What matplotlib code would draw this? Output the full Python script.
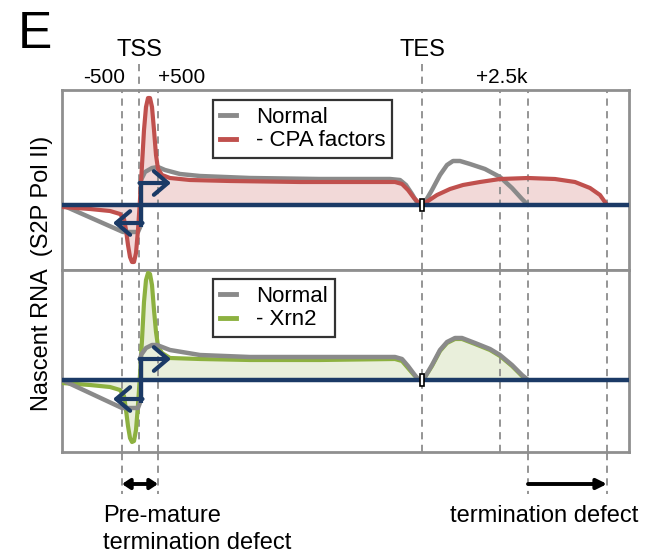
import numpy as np
import matplotlib
matplotlib.use("Agg")
import matplotlib.pyplot as plt
from matplotlib.patches import Rectangle
from matplotlib.lines import Line2D

plt.rcParams['font.family'] = ['Liberation Sans', 'DejaVu Sans']

# schematic positions along the gene (same units as the x axis)
marks = [122, 139, 158, 422, 500, 528, 607]      # -500, TSS, +500, TES, ..., +2.5k, ...
mark_labels = {'-500': 104, '+500': 182, '+2.5k': 502}
site_labels = {'TSS': 139, 'TES': 422}

# panel 1: S2P Pol II (Normal vs - CPA factors)
p1_gray_x = [62, 123, 138, 141, 141, 145, 152, 158, 165, 180, 200, 250, 320, 390, 400, 406, 412, 418, 420,
             425, 432, 440, 447, 453, 460, 470, 485, 500, 512, 522, 528]
p1_gray_y = [0, -27, -27, -20, 25, 33, 37, 38, 35, 31, 29, 27, 26, 26, 25, 20, 11, 1, 0,
             3, 15, 30, 40, 44, 44, 41, 36, 28, 17, 6, 0]
p1_red_x = [62, 90, 110, 120, 124, 126, 128, 130, 132, 134, 136, 138, 140, 142, 144, 146, 148, 150, 152,
            154, 156, 158, 162, 170, 190, 230, 300, 370, 395, 402, 408, 414, 419, 422,
            428, 437, 450, 463, 480, 500, 528, 555, 575, 590, 600, 607]
p1_red_y = [-2, -4, -6, -9, -14, -25, -40, -52, -57, -57, -48, -25, 5, 40, 75, 98, 107, 107, 98,
            75, 50, 36, 30, 27, 25, 24, 23, 23, 23, 21, 15, 7, 2, 0,
            4, 10, 16, 20, 23, 26, 27, 26, 23, 17, 10, 0]

# panel 2: Nascent RNA (Normal vs - Xrn2)
p2_gray_x = [62, 122, 138, 141, 141, 146, 152, 157, 170, 200, 250, 320, 395, 402, 408, 414, 418, 420,
             425, 432, 440, 447, 455, 462, 475, 490, 500, 512, 522, 528]
p2_gray_y = [0, -28, -28, -20, 25, 32, 35, 35, 30, 25, 23, 23, 23, 21, 14, 6, 1, 0,
             3, 15, 30, 38, 42, 42, 37, 31, 25, 15, 5, 0]
p2_green_x = [62, 90, 110, 120, 124, 126, 128, 130, 132, 134, 136, 138, 140, 142, 144, 146, 148, 150, 152,
              154, 156, 158, 162, 170, 200, 250, 320, 395, 402, 408, 414, 418, 420,
              425, 432, 440, 447, 455, 462, 475, 490, 500, 512, 522, 528]
p2_green_y = [-3, -5, -7, -10, -16, -30, -46, -58, -62, -61, -50, -25, 5, 40, 78, 100, 107, 106, 95,
              70, 48, 34, 27, 22, 21, 20, 20, 21, 19, 12, 5, 1, 0,
              3, 14, 29, 37, 41, 41, 36, 30, 24, 14, 4, 0]

GRAY = '#8a8a8a'
RED = '#c0504d'
GREEN = '#8db140'
NAVY = '#1b3a66'
DASH = '#8c8c8c'

W, H = 659, 555
fig = plt.figure(figsize=(W / 100, H / 100), dpi=100)


def panel(top, bottom, base):
    ax = fig.add_axes([62 / W, (H - bottom) / H, (629 - 62) / W, (bottom - top) / H])
    ax.set_xlim(62, 629)
    ax.set_ylim(base - bottom, base - top)
    ax.set_xticks([])
    ax.set_yticks([])
    for s in ax.spines.values():
        s.set_color('#8f8f8f')
        s.set_linewidth(2.0)
    for m in marks:
        ax.axvline(m, color=DASH, lw=1.3, ls=(0, (4, 3)), zorder=2)
    ax.axhline(0, color=NAVY, lw=3.2, zorder=5)
    return ax


def tss_arrows(ax, up, down):
    head = '->,head_length=1.0,head_width=0.85'
    ax.plot([141, 141], [up, -down - 4], color=NAVY, lw=3.0, zorder=6, solid_capstyle='butt')
    ax.annotate('', xy=(171, up), xytext=(139.5, up),
                arrowprops=dict(arrowstyle=head, color=NAVY, lw=3.0, shrinkA=0, shrinkB=0), zorder=6)
    ax.annotate('', xy=(113, -down), xytext=(142.5, -down),
                arrowprops=dict(arrowstyle=head, color=NAVY, lw=3.0, shrinkA=0, shrinkB=0), zorder=6)


def tes_box(ax):
    ax.add_patch(Rectangle((420, -6), 4, 12, facecolor='white', edgecolor='black', lw=1.2, zorder=7))


ax1 = panel(90, 270, 205)
ax1.fill_between(p1_red_x, p1_red_y, 0, color='#f2d9d8', zorder=1)
ax1.plot(p1_gray_x, p1_gray_y, color=GRAY, lw=3.2, zorder=3, solid_joinstyle='round', solid_capstyle='round')
ax1.plot(p1_red_x, p1_red_y, color=RED, lw=3.0, zorder=4, solid_joinstyle='round', solid_capstyle='round')
tss_arrows(ax1, 22, 18)
tes_box(ax1)

ax2 = panel(270, 452, 380)
ax2.fill_between(p2_green_x, p2_green_y, 0, color='#e9efdb', zorder=1)
ax2.plot(p2_green_x, p2_green_y, color=GREEN, lw=3.0, zorder=3, solid_joinstyle='round', solid_capstyle='round')
ax2.plot(p2_gray_x, p2_gray_y, color=GRAY, lw=3.2, zorder=4, solid_joinstyle='round', solid_capstyle='round')
tss_arrows(ax2, 21, 19)
tes_box(ax2)


def legend(ax, names, colors, x0, y0):
    handles = [Line2D([], [], color=c, lw=3.5) for c in colors]
    lg = ax.legend(handles, names, loc='upper left', fontsize=16, handlelength=0.75, handletextpad=0.9,
                   borderpad=0.3, labelspacing=0.12, frameon=True, fancybox=False,
                   bbox_to_anchor=(x0 / W, (H - y0) / H), bbox_transform=fig.transFigure,
                   borderaxespad=0)
    fr = lg.get_frame()
    fr.set_edgecolor('black')
    fr.set_linewidth(1.6)
    lg.set_zorder(10)
    return lg


legend(ax1, ['Normal', '- CPA factors'], [GRAY, RED], 213, 100)
legend(ax2, ['Normal', '- Xrn2'], [GRAY, GREEN], 213, 279)

# overlay for annotations outside the panels
ov = fig.add_axes([0, 0, 1, 1], zorder=20)
ov.set_xlim(0, W)
ov.set_ylim(H, 0)
ov.axis('off')
ov.patch.set_alpha(0)

for name, x in site_labels.items():
    ov.text(x, 56, name, ha='center', va='baseline', fontsize=17)
    ov.plot([x, x], [64, 90], color=DASH, lw=1.3, ls=(0, (4, 3)))
for name, x in mark_labels.items():
    ov.text(x, 83, name, ha='center', va='baseline', fontsize=15)
for x in [marks[0], marks[2], marks[5], marks[6]]:
    ov.plot([x, x], [453, 494], color=DASH, lw=1.3, ls=(0, (4, 3)))

ov.text(18, 48, 'E', ha='left', va='baseline', fontsize=37)
ov.text(42, 273, 'Nascent RNA  (S2P Pol II)', rotation=90, ha='center', va='center', fontsize=17)

ov.annotate('', xy=(marks[0], 484), xytext=(marks[2], 484),
            arrowprops=dict(arrowstyle='<|-|>,head_length=0.45,head_width=0.3', color='black', lw=2.8,
                            shrinkA=0, shrinkB=0))
ov.annotate('', xy=(marks[6], 484), xytext=(marks[5], 484),
            arrowprops=dict(arrowstyle='-|>,head_length=0.6,head_width=0.3', color='black', lw=2.8,
                            shrinkA=0, shrinkB=0))
ov.text(103, 522, 'Pre-mature', ha='left', va='baseline', fontsize=17)
ov.text(103, 549, 'termination defect', ha='left', va='baseline', fontsize=17)
ov.text(638, 522, 'termination defect', ha='right', va='baseline', fontsize=17)

fig.savefig('out.png', dpi=100)
